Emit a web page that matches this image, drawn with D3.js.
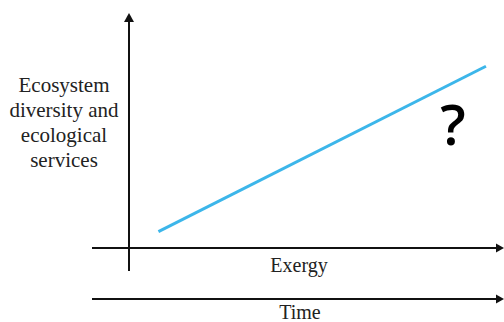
<!DOCTYPE html>
<html><head><meta charset="utf-8">
<script src="https://cdn.jsdelivr.net/npm/d3@7"></script>
<style>html,body{margin:0;padding:0;background:#fff;}svg{display:block;}</style>
</head><body>
<script>
const yLabelLines = ["Ecosystem", "diversity and", "ecological", "services"];
const xLabel = "Exergy";
const timeLabel = "Time";
const lineX = [8, 97];
const lineY = [7, 78];
const markText = "?";

const W = 504, H = 322;
const svg = d3.select("body").append("svg").attr("width", W).attr("height", H);
const x = d3.scaleLinear().domain([0, 100]).range([129, 497]);
const y = d3.scaleLinear().domain([0, 100]).range([248, 15]);

const black = "#111";
svg.append("line").attr("x1", 129).attr("x2", 129).attr("y1", 20).attr("y2", 271)
  .attr("stroke", black).attr("stroke-width", 2);
svg.append("path").attr("d", "M129,13 L124,22 L134,22 Z").attr("fill", black);
svg.append("line").attr("x1", 92).attr("x2", 498).attr("y1", 248).attr("y2", 248)
  .attr("stroke", black).attr("stroke-width", 2);
svg.append("path").attr("d", "M504,248 L496,243.5 L496,252.5 Z").attr("fill", black);
svg.append("line").attr("x1", 92).attr("x2", 498).attr("y1", 299).attr("y2", 299)
  .attr("stroke", black).attr("stroke-width", 2);
svg.append("path").attr("d", "M504,299 L496,294.5 L496,303.5 Z").attr("fill", black);

const pts = lineX.map((d, i) => [d, lineY[i]]);
svg.append("path").datum(pts)
  .attr("d", d3.line().x(d => x(d[0])).y(d => y(d[1])))
  .attr("stroke", "#3cb6ea").attr("stroke-width", 3).attr("fill", "none");

const serif = "'Liberation Serif'";
const yl = svg.append("text").style("font-family", serif).attr("text-anchor", "middle")
  .attr("font-size", 21).attr("fill", "#222");
yLabelLines.forEach((t, i) => yl.append("tspan").attr("x", 64).attr("y", 92 + i * 25).text(t));

svg.append("text").style("font-family", serif).attr("x", 299).attr("y", 272).attr("text-anchor", "middle")
  .attr("font-size", 20).attr("fill", "#222").text(xLabel);
svg.append("text").style("font-family", serif).attr("x", 300).attr("y", 319).attr("text-anchor", "middle")
  .attr("font-size", 20).attr("fill", "#222").text(timeLabel);

svg.append("text").attr("x", 453).attr("y", 145).attr("text-anchor", "middle")
  .style("font-family", "'Open Sans'").attr("font-size", 56)
  .attr("font-weight", 600).attr("fill", "#000").text(markText);
</script>
</body></html>
